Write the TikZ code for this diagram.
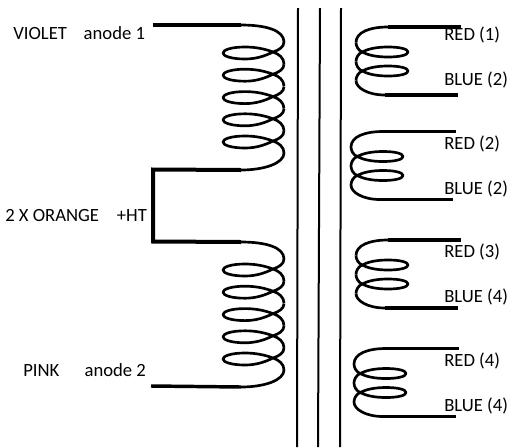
\documentclass[tikz,border=0pt]{standalone}
\usepackage{fontspec}
\setmainfont{Carlito}
\usepackage{tikz}
\tikzstyle{coilwire} = [line width=2pt,line join=round,black]
\tikzstyle{lead} = [line width=2.6pt,black]
\tikzstyle{core} = [line width=1.5pt,black]
\tikzstyle{label} = [inner sep=0pt,anchor=west,font=\fontsize{14}{16}\selectfont]
\tikzset{
  bigcoil/.pic={
    \coordinate (-in) at (241,25);
    \coordinate (-out) at (241,170);
    \draw[coilwire] (-in) .. controls (265,25) and (284,30) .. (284,42);
    \foreach \y in {53,75.2,97.6,119.8,142} {
      \draw[coilwire] (284,\y-11) .. controls (284,\y-6) and (279,\y-3) .. (273,\y-1)
        .. controls (265,\y+3) and (256,\y+6) .. (245,\y+6)
        .. controls (231,\y+6) and (223,\y+3) .. (223,\y)
        .. controls (223,\y-3) and (231,\y-6) .. (245,\y-6)
        .. controls (256,\y-6) and (265,\y-4) .. (273,\y-1)
        .. controls (279,\y+1) and (284,\y+5) .. (284,\y+11);
    }
    \draw[coilwire] (284,153) .. controls (284,163) and (265,170) .. (-out);
  },
  smallcoil/.pic={
    \coordinate (-a) at (461,27);
    \coordinate (-b) at (388,27);
    \coordinate (-c) at (385,95);
    \coordinate (-d) at (458,95);
    \draw[coilwire] (-b) .. controls (370,27) and (356,32) .. (356,42.5);
    \foreach \y in {52,71} {
      \draw[coilwire] (356,\y-9.5) .. controls (356,\y-6) and (358,\y-2) .. (362,\y)
        .. controls (368,\y+3) and (376,\y+5) .. (388,\y+5)
        .. controls (400,\y+5) and (408,\y+3) .. (408,\y)
        .. controls (408,\y-3) and (400,\y-5) .. (388,\y-5)
        .. controls (376,\y-5) and (368,\y-3) .. (362,\y)
        .. controls (358,\y+2) and (356,\y+6) .. (356,\y+9.5);
    }
    \draw[coilwire] (356,80.5) .. controls (356,88) and (368,95) .. (-c);
    \draw[lead] (-b) -- (-a);
    \draw[lead] (-c) -- (-d);
  }
}
\begin{document}
\begin{tikzpicture}[x=0.75pt,y=-0.75pt]
\useasboundingbox (0,0) rectangle (514,447);

% Core
\draw[core] (298,8) -- (297,447);
\draw[core] (320,8) -- (318,447);
\draw[core] (341,8) -- (340,447);

% Primary
\pic (upper) at (0,0) {bigcoil};
\pic (lower) at (0,217) {bigcoil};
\coordinate (violetend) at (153,25);
\coordinate (pinkend) at (151,386);
\coordinate (httop) at (153,169.5);
\coordinate (htbot) at (153,241.5);
\draw[lead] (violetend) -- (upper-in);
\draw[lead] (pinkend) -- (lower-out);
\draw[line width=3pt,black,line join=miter] (upper-out) -- (httop) -- (htbot) -- (lower-in);

\node[label] (violet) at (13,33) {VIOLET\hspace{0.9em}anode 1};
\node[label] (orange) at (5,216) {2 X ORANGE\hspace{0.95em}+HT};
\node[label] (pink) at (23,370) {PINK\hspace{1.35em}anode 2};

% Secondaries
\foreach \dx/\dy in {0/0,-5/104.5,0/213,-2/321.5} {
  \pic at (\dx,\dy) {smallcoil};
}

\node[label] (red1) at (444,35) {RED (1)};
\node[label] (blue1) at (444,80) {BLUE (2)};
\node[label] (red2) at (444,144) {RED (2)};
\node[label] (blue2) at (444,189) {BLUE (2)};
\node[label] (red3) at (444,252) {RED (3)};
\node[label] (blue3) at (444,297) {BLUE (4)};
\node[label] (red4) at (444,361) {RED (4)};
\node[label] (blue4) at (444,406) {BLUE (4)};
\end{tikzpicture}
\end{document}
